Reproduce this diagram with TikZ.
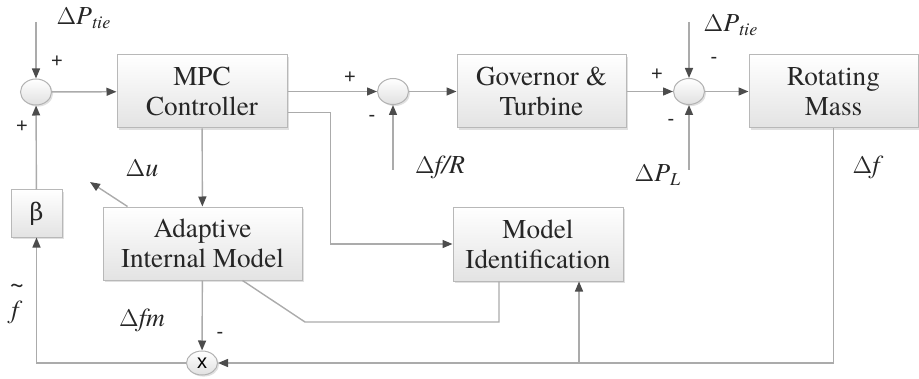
\documentclass[tikz,border=0pt]{standalone}
\usepackage{fontspec}
\IfFontExistsTF{texgyretermes-regular.otf}{%
  \setmainfont{texgyretermes}[Extension=.otf, UprightFont=*-regular,
    ItalicFont=*-italic, BoldFont=*-bold, BoldItalicFont=*-bolditalic]}{}
\newfontfamily\greekfont{DejaVu Serif}
\newfontfamily\signfont{Liberation Sans}
\usetikzlibrary{arrows.meta,shadows,shapes.geometric}

\newcommand{\dlt}{$\Delta$}

\tikzset{
  block/.style={rectangle, draw=black!28, line width=0.5pt,
    top color=white, bottom color=black!11,
    drop shadow={shadow xshift=1pt, shadow yshift=-1pt, fill=black!30, opacity=0.4},
    text=black!85, font=\fontsize{13.6}{15}\selectfont, align=center, inner sep=0pt},
  junction/.style={ellipse, draw=black!30, line width=0.5pt,
    top color=white, bottom color=black!12,
    drop shadow={shadow xshift=0.8pt, shadow yshift=-0.8pt, fill=black!30, opacity=0.4},
    minimum width=15.5pt, minimum height=13pt, inner sep=0pt},
  wire/.style={draw=black!33, line width=0.7pt},
  link/.style={wire, -{Triangle[length=5pt,width=4pt,color=black!70]}},
  sign/.style={font=\signfont\fontsize{10}{10}\selectfont, text=black!85, inner sep=0pt},
  signal/.style={font=\fontsize{13}{14}\selectfont, text=black!85, inner sep=0pt}
}

\begin{document}
\begin{tikzpicture}[x=0.5pt, y=-0.5pt]
  \useasboundingbox (0,0) rectangle (919,379);

  % blocks
  \node[block, minimum width=85pt, minimum height=36.5pt] (mpc) at (202,91.5) {MPC\\Controller};
  \node[block, minimum width=84.5pt, minimum height=36.5pt] (gov) at (541.5,91.5) {Governor \&\\Turbine};
  \node[block, minimum width=84.5pt, minimum height=36.5pt] (rot) at (833.5,91.5) {Rotating\\Mass};
  \node[block, minimum width=99.5pt, minimum height=36.5pt] (aim) at (202.5,243.5) {Adaptive\\Internal Model};
  \node[block, minimum width=85pt, minimum height=37pt] (mi) at (538,244) {Model\\Identification};
  \node[block, minimum width=25.5pt, minimum height=23.5pt] (beta) at (36.5,213.5) {\greekfont\fontsize{12}{12}\selectfont β};

  % summing points
  \node[junction] (sum1) at (36,92) {};
  \node[junction] (sum2) at (393,91.5) {};
  \node[junction] (sum3) at (689,91.5) {};
  \node[junction, minimum height=12pt] (mult) at (202,363) {\signfont\fontsize{10}{10}\selectfont x};

  % free ends
  \coordinate (ptieA) at (36,22);
  \coordinate (ptieB) at (689,22);
  \coordinate (pload) at (689,170);
  \coordinate (droop) at (393,170);
  \coordinate (du) at (90,182);
  \coordinate (bend) at (305,322);
  \coordinate (tap) at (579,363);

  % forward path
  \draw[link] (ptieA) -- (sum1);
  \draw[link] (sum1) -- (mpc);
  \draw[link] (mpc.east) -- (sum2);
  \draw[link] (sum2) -- (gov);
  \draw[link] (gov) -- (sum3);
  \draw[link] (sum3) -- (rot);
  \draw[link] (droop) -- (sum2);
  \draw[link] (ptieB) -- (sum3);
  \draw[link] (pload) -- (sum3);
  \draw[link] ([yshift=-10.5pt]mpc.east) -- ++(43,0) |- (mi.west);
  \draw[link] (mpc) -- (aim);
  \draw[link] ([xshift=12.5pt]aim.north west) -- (du);
  \draw[link] (aim) -- (mult);
  \draw[wire] ([xshift=20pt]aim.south) -- (bend) -| ([xshift=-19.5pt]mi.south);

  % feedback
  \draw[link] (rot.south) |- (mult.east);
  \draw[link] (tap) -- (tap |- mi.south);
  \draw[link] (mult.west) -| (beta.south);
  \draw[link] (beta) -- (sum1);

  % labels
  \node[signal] (lptieA) at (84,18) {\dlt\textit{P}\textsubscript{\textit{tie}}};
  \node[signal] (lptieB) at (731,25) {\dlt\textit{P}\textsubscript{\textit{tie}}};
  \node[signal] (lpload) at (658,175) {\dlt\textit{P}\textsubscript{\textit{L}}};
  \node[signal] (ldroop) at (440,167) {\dlt\textit{f/R}};
  \node[signal] (ldf) at (868,167) {\dlt\textit{f}};
  \node[signal] (ldu) at (142,168) {\dlt\textit{u}};
  \node[signal] (ldfm) at (142,320) {\dlt\textit{fm}};
  \node[signal, align=center] (lft) at (17,304) {\textasciitilde\\[-1pt]\textit{f}};

  % signs
  \node[sign] at (57,62) {+};
  \node[sign] at (22,127) {+};
  \node[sign] at (350,78) {+};
  \node[sign] at (372,118) {-};
  \node[sign] at (657,75) {+};
  \node[sign] at (714,60) {-};
  \node[sign] at (671,122) {-};
  \node[sign] at (220,335) {-};
\end{tikzpicture}
\end{document}
